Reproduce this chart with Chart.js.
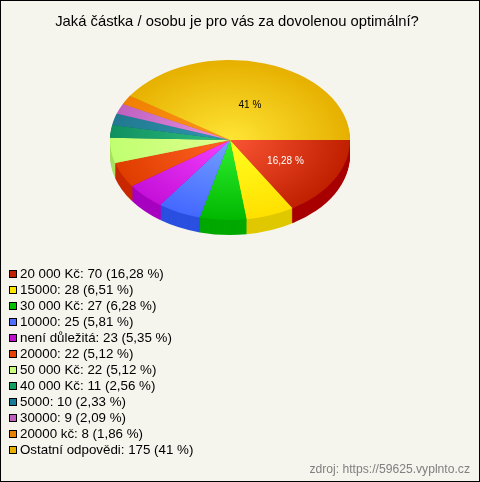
<!DOCTYPE html>
<html>
<head>
<meta charset="utf-8">
<script src="https://cdn.jsdelivr.net/npm/chart.js@4"></script>
<style>
  html, body { margin: 0; padding: 0; background: #f5f5ee; }
  #frame { position: relative; width: 478px; height: 480px; border: 1px solid #000; overflow: hidden; font-family: "Liberation Sans", Arial, sans-serif; color: #000; }
  #chart { position: absolute; left: -1px; top: -1px; }
  #legend { position: absolute; left: 8px; top: 265px; margin: 0; padding: 0; list-style: none; font-size: 13.33px; }
  #legend li { height: 16px; line-height: 16px; white-space: nowrap; }
  #legend i { display: inline-block; width: 6px; height: 6px; border: 1px solid #000; margin-right: 3px; vertical-align: 0; }
  #source { position: absolute; right: 9px; top: 461px; font-size: 12.15px; color: #808080; }
</style>
</head>
<body>
<div id="frame">
  <canvas id="chart" width="480" height="482"></canvas>
  <ul id="legend"></ul>
  <div id="source">zdroj: https://59625.vyplnto.cz</div>
</div>
<script>
const chartTitle = 'Jaká částka / osobu je pro vás za dovolenou optimální?';

const categories = ['20 000 Kč', '15000', '30 000 Kč', '10000', 'není důležitá', '20000', '50 000 Kč', '40 000 Kč', '5000', '30000', '20000 kč', 'Ostatní odpovědi'];
const counts = [70, 28, 27, 25, 23, 22, 22, 11, 10, 9, 8, 175];
const percents = ['16,28 %', '6,51 %', '6,28 %', '5,81 %', '5,35 %', '5,12 %', '5,12 %', '2,56 %', '2,33 %', '2,09 %', '1,86 %', '41 %'];

// only the two big slices carry a label on the pie
const sliceLabels = ['16,28 %', '', '', '', '', '', '', '', '', '', '', '41 %'];
const sliceLabelColors = ['#fff', '', '', '', '', '', '', '', '', '', '', '#000'];

const swatchColors = ['#c02000', '#ffe600', '#00c000', '#4d70ff', '#c010d0', '#e84000', '#c8ff80', '#10a060', '#1a7a9a', '#c060c0', '#e88000', '#e8b000'];
const innerColors = ['#fa5535', '#ffff20', '#30f030', '#75a0ff', '#f540ff', '#ff6525', '#e0ff90', '#30c080', '#3098b0', '#e595e0', '#ff9520', '#ffe535'];
const outerColors = ['#c02000', '#ffe000', '#00b800', '#4468ff', '#c410d8', '#e03c00', '#c0ff70', '#109060', '#207890', '#c060c0', '#f08000', '#e6b000'];
const sideColors = ['#a80000', '#e0c800', '#00a800', '#2a50e0', '#a800c0', '#c82800', '#a8e060', '#087848', '#106078', '#a04ca0', '#c86800', '#c09000'];

// Pie is laid out as a circle, then squashed to look tilted
const SQUASH = 2 / 3;
const DEPTH = 15;
const LABEL_RADIUS = { 0: 0.53, 11: 0.46 };
const LABEL_NUDGE_X = { 0: 0, 11: 4 };

const tiltPlugin = {
    id: 'tilt',
    beforeDatasetsDraw(chart) {
        const ctx = chart.ctx;
        const arcs = chart.getDatasetMeta(0).data;
        const cx = arcs[0].x, cy = arcs[0].y;
        ctx.save();
        ctx.translate(cx, cy);
        ctx.scale(1, SQUASH);
        ctx.translate(-cx, -cy);
        // Side wall: stacked copies of each slice, bottom one first
        for (let d = DEPTH; d > 0; d--) {
            arcs.forEach((arc, i) => {
                ctx.fillStyle = sideColors[i];
                ctx.beginPath();
                ctx.moveTo(cx, cy + d / SQUASH);
                ctx.arc(cx, cy + d / SQUASH, arc.outerRadius, arc.startAngle, arc.endAngle);
                ctx.closePath();
                ctx.fill();
            });
        }
    },
    afterDatasetsDraw(chart) {
        const ctx = chart.ctx;
        ctx.restore();
        const arcs = chart.getDatasetMeta(0).data;
        ctx.font = '10px "Liberation Sans", Arial, sans-serif';
        ctx.textAlign = 'center';
        ctx.textBaseline = 'middle';
        arcs.forEach((arc, i) => {
            if (!sliceLabels[i]) return;
            const mid = (arc.startAngle + arc.endAngle) / 2;
            const r = arc.outerRadius * LABEL_RADIUS[i];
            ctx.fillStyle = sliceLabelColors[i];
            ctx.fillText(sliceLabels[i], arc.x + r * Math.cos(mid) + LABEL_NUDGE_X[i], arc.y + r * Math.sin(mid) * SQUASH);
        });
    }
};

new Chart(document.getElementById('chart'), {
    type: 'pie',
    data: {
        labels: categories,
        datasets: [{
            data: counts,
            borderWidth: 0,
            backgroundColor(c) {
                const { chart, dataIndex } = c;
                const area = chart.chartArea;
                if (!area) return outerColors[dataIndex];
                const x = (area.left + area.right) / 2, y = (area.top + area.bottom) / 2;
                const g = chart.ctx.createRadialGradient(x, y, 0, x, y, 120);
                g.addColorStop(0, innerColors[dataIndex]);
                g.addColorStop(1, outerColors[dataIndex]);
                return g;
            }
        }]
    },
    options: {
        responsive: false,
        animation: false,
        rotation: 90,
        layout: { padding: { right: 6 } },
        plugins: {
            legend: { display: false },
            tooltip: { enabled: false },
            title: {
                display: true,
                text: chartTitle,
                color: '#000',
                font: { family: '"Liberation Sans", Arial, sans-serif', size: 14.8, weight: 'normal' },
                padding: { top: 13, bottom: 0 }
            }
        }
    },
    plugins: [tiltPlugin, {
        id: 'pieBox',
        // keeps the pie at radius 120 whatever the title takes
        afterLayout(chart) {
            const area = chart.chartArea;
            area.left = 110;
            area.right = 350;
            area.width = 240;
            area.top = 20;
            area.bottom = 260;
            area.height = 240;
            chart.getDatasetMeta(0).controller.update('none');
        }
    }]
});

document.getElementById('legend').innerHTML = categories.map((name, i) =>
    `<li><i style="background:${swatchColors[i]}"></i>${name}: ${counts[i]} (${percents[i]})</li>`
).join('');
</script>
</body>
</html>
